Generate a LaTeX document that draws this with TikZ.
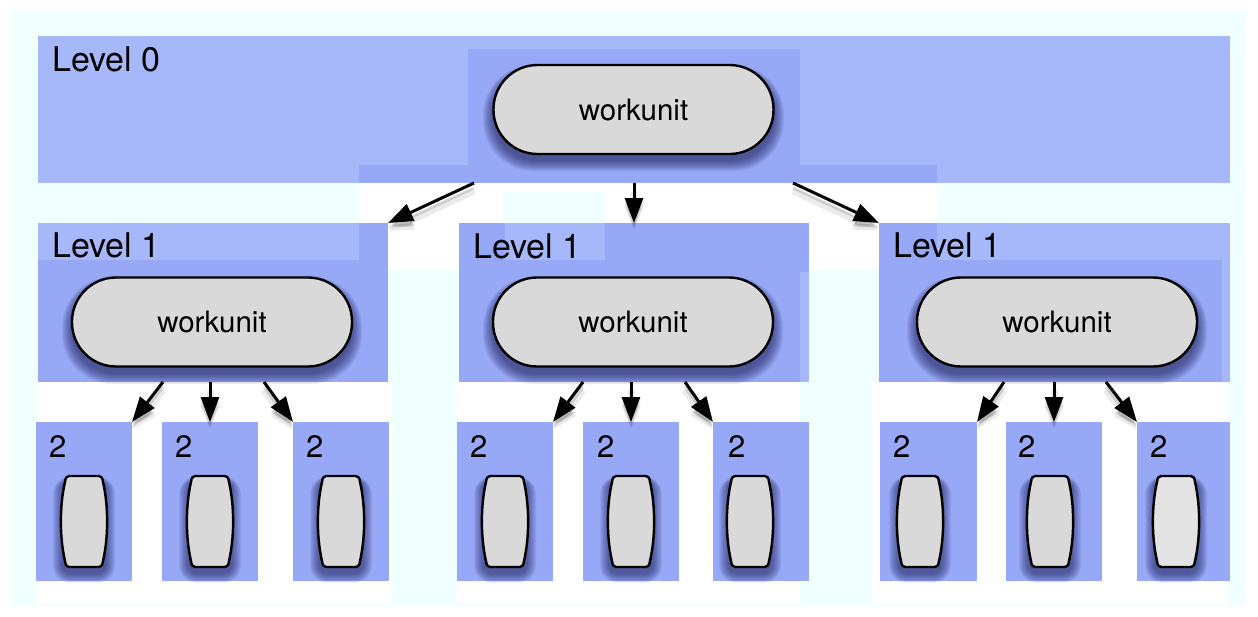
\documentclass[tikz,border=0pt]{standalone}
\usepackage{fontspec}
\setmainfont{TeX Gyre Heros}
\usetikzlibrary{arrows.meta}

\definecolor{bgcyan}{HTML}{F0FFFF}
\definecolor{lvlight}{HTML}{A6B8FA}
\definecolor{lvdark}{HTML}{97A8F6}
\definecolor{unitgray}{HTML}{D9D9D9}
\definecolor{unitpale}{HTML}{E3E3E3}
\definecolor{shadowc}{HTML}{1A1E58}

\tikzset{
  lvbox/.style={rectangle, fill=lvdark, draw=none, inner sep=0pt, outer sep=0pt, anchor=north west},
  capsule/.style={rectangle, rounded corners=44pt, draw=black, line width=2.4pt, fill=unitgray,
    minimum width=280pt, minimum height=89pt, inner sep=0pt, font=\fontsize{29.5}{32}\selectfont},
  lvlabel/.style={anchor=base west, inner sep=0pt, font=\fontsize{34}{37}\selectfont},
  numlabel/.style={anchor=base west, inner sep=0pt, font=\fontsize{31}{34}\selectfont},
  flow/.style={-{Triangle[length=25pt,width=18pt]}, line width=3pt},
}

% soft shadow under a workunit capsule: x1 y1 x2 y2 radius
\newcommand\unitshadow[5]{%
  \foreach \k in {0,...,10}{%
    \fill[shadowc, opacity=0.075, rounded corners={(#5+0.6*\k)*1pt}]
      ({#1-\k},{#2+5-0.5*\k}) rectangle ({#3+\k},{#4+7+\k});
  }}

% small barrel-shaped unit with its shadow: centre x, top y, fill colour
\newcommand\cask[3]{%
  \begin{scope}[shift={(#1,#2)}]
    \foreach \k in {0,...,9}{%
      \fill[shadowc, opacity=0.075, rounded corners={(9+\k)*1pt}]
        ({-22-\k},{4-0.4*\k}) rectangle ({22+\k},{98+\k});
    }
    \draw[line width=2.4pt, fill=#3]
      (-15,0) -- (15,0) .. controls (17.5,0) and (18.5,2) .. (19,6)
      .. controls (24.5,30) and (24.5,61) .. (19,85)
      .. controls (18.5,89) and (17.5,91) .. (15,91) -- (-15,91)
      .. controls (-17.5,91) and (-18.5,89) .. (-19,85)
      .. controls (-24.5,61) and (-24.5,30) .. (-19,6)
      .. controls (-18.5,2) and (-17.5,0) .. (-15,0) -- cycle;
  \end{scope}}

% arrow with a soft shadow
\newcommand\link[2]{%
  \draw[flow, black, opacity=0.08, line width=7pt, transform canvas={yshift=-8pt}] (#1) -- (#2);
  \draw[flow, black, opacity=0.12, transform canvas={yshift=-5pt}] (#1) -- (#2);
  \draw[flow] (#1) -- (#2);}

\begin{document}
\begin{tikzpicture}[x=1pt, y=-1pt]
  % page and backdrop
  \fill[white] (0,0) rectangle (1258,616);
  \useasboundingbox (0,0) rectangle (1258,616);
  \fill[bgcyan] (12,11) rectangle (1246,606);
  \fill[white] (359,183) rectangle (937,223);
  \fill[bgcyan] (503,192) rectangle (605,223);
  \fill[white] (388,223) rectangle (459,270);
  \fill[white] (809,223) rectangle (879,270);
  \fill[white] (36,382) rectangle (392,603);
  \fill[white] (457,382) rectangle (800,603);
  \fill[white] (872,382) rectangle (1227,603);

  % level 0
  \node[lvbox, fill=lvlight, minimum width=1192pt, minimum height=147pt] (L0) at (38,36) {};
  \fill[lvdark] (468,49) rectangle (800,165);
  \fill[lvdark] (359,165) rectangle (937,183);

  % level 1
  \node[lvbox, minimum width=350pt, minimum height=159pt] (L1a) at (38,223) {};
  \node[lvbox, minimum width=350pt, minimum height=159pt] (L1b) at (459,223) {};
  \node[lvbox, minimum width=351pt, minimum height=159pt] (L1c) at (879,223) {};
  \fill[lvlight] (38,223) rectangle (359,260);
  \fill[lvlight] (505,223) rectangle (605,260);
  \fill[lvlight] (800,272) rectangle (809,382);
  \fill[lvlight] (937,223) rectangle (1230,260);
  \fill[lvlight] (1222,260) rectangle (1230,382);

  % level 2
  \foreach \n/\x/\w in {a1/36/96, a2/162/96, a3/293/96,
                        b1/457/96, b2/583/96, b3/713/96,
                        c1/880/97, c2/1006/96, c3/1137/93}{
    \node[lvbox, minimum width=\w pt, minimum height=159pt] (\n) at (\x,422) {};
  }

  % labels
  \node[lvlabel] (t0) at (52,71) {Level 0};
  \node[lvlabel] (t1a) at (52,257) {Level 1};
  \node[lvlabel] (t1b) at (473,258) {Level 1};
  \node[lvlabel] (t1c) at (893,257) {Level 1};
  \foreach \n/\x in {a1/49, a2/175, a3/306, b1/470, b2/597, b3/728, c1/893, c2/1018, c3/1150}{
    \node[numlabel] (n\n) at (\x,457) {2};
  }

  % workunits
  \unitshadow{493}{65}{774}{154}{44}
  \unitshadow{72}{277}{352}{367}{44}
  \unitshadow{493}{277}{773}{367}{44}
  \unitshadow{917}{277}{1197}{367}{44}
  \node[capsule] (W0) at (633.5,109.5) {workunit};
  \node[capsule] (W1a) at (212,322) {workunit};
  \node[capsule] (W1b) at (633,322) {workunit};
  \node[capsule] (W1c) at (1057,322) {workunit};

  % level 2 units
  \foreach \x in {84, 210, 341, 505, 631, 750, 920, 1050}{
    \cask{\x}{476}{unitgray}
  }
  \cask{1176}{476}{unitpale}

  % connectors
  \coordinate (s0a) at (474,183);
  \coordinate (s0b) at (634,183);
  \coordinate (s0c) at (793,183);
  \link{s0a}{L1a.north east}
  \link{s0b}{L1b.north}
  \link{s0c}{L1c.north west}

  \coordinate (sa1) at (163,382);
  \coordinate (sa2) at (210,382);
  \coordinate (sa3) at (264,382);
  \link{sa1}{a1.north east}
  \link{sa2}{a2.north}
  \link{sa3}{a3.north west}

  \coordinate (sb1) at (583,382);
  \coordinate (sb2) at (631,382);
  \coordinate (sb3) at (685,382);
  \link{sb1}{b1.north east}
  \link{sb2}{b2.north}
  \link{sb3}{b3.north west}

  \coordinate (sc1) at (1004,382);
  \coordinate (sc2) at (1054,382);
  \coordinate (sc3) at (1106,382);
  \link{sc1}{c1.north east}
  \link{sc2}{c2.north}
  \link{sc3}{c3.north west}
\end{tikzpicture}
\end{document}
